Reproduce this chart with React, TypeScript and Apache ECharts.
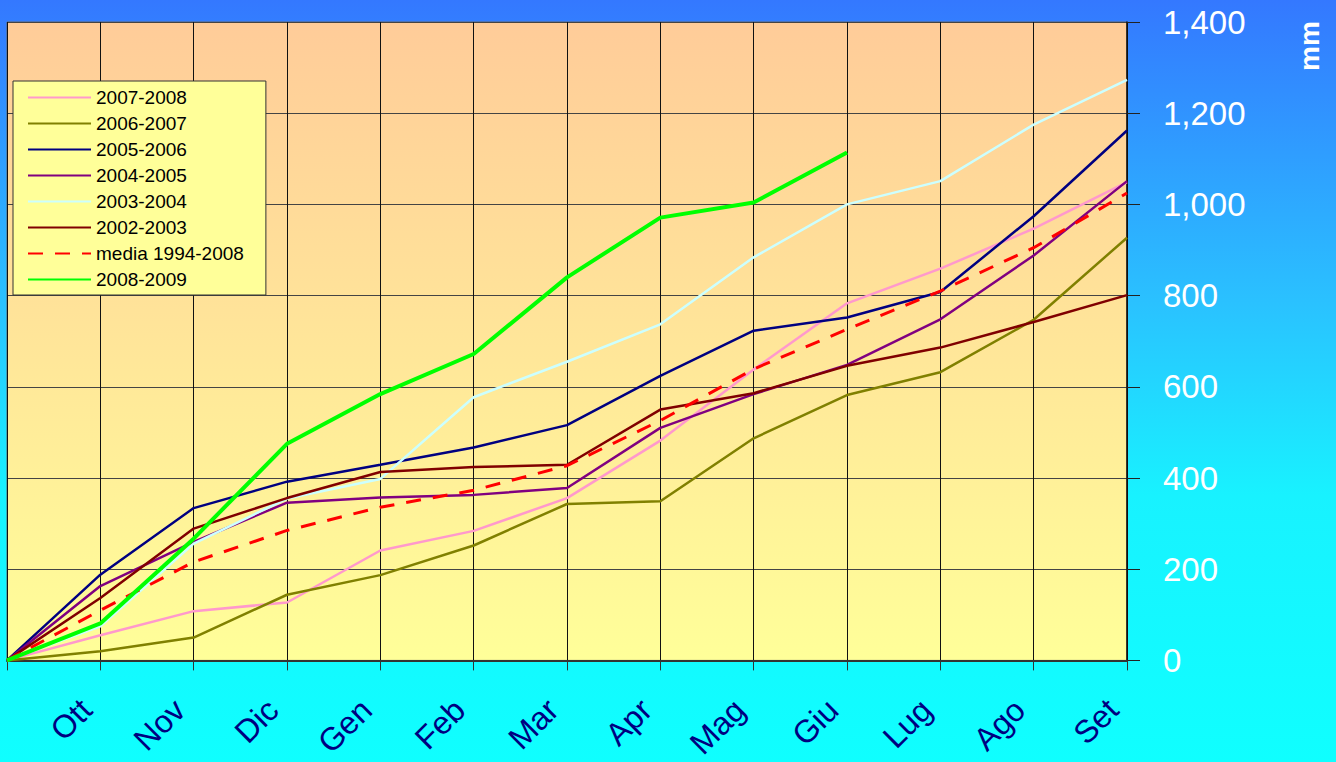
import React, { useEffect, useRef } from "react";
import * as echarts from "echarts";

const months = ["", "Ott", "Nov", "Dic", "Gen", "Feb", "Mar", "Apr", "Mag", "Giu", "Lug", "Ago", "Set"];
const yTicks = [0, 200, 400, 600, 800, 1000, 1200, 1400];

const s0708 = [0, 55, 108, 127, 241, 284, 356, 482, 638, 783, 859, 947, 1049];
const s0607 = [0, 20, 50, 144, 187, 252, 343, 349, 487, 582, 632, 747, 927];
const s0506 = [0, 188, 334, 392, 429, 467, 516, 624, 723, 752, 808, 974, 1162];
const s0405 = [0, 163, 260, 346, 357, 363, 378, 510, 584, 648, 748, 888, 1051];
const s0304 = [0, 75, 256, 355, 398, 577, 655, 737, 884, 1000, 1051, 1175, 1273];
const s0203 = [0, 137, 289, 356, 413, 424, 429, 550, 586, 646, 686, 742, 801];
const media = [0, 110, 216, 285, 336, 373, 427, 526, 639, 726, 810, 905, 1025];
const s0809 = [0, 81, 267, 475, 584, 672, 840, 971, 1004, 1114];

const seriesDefs = [
  { name: "2007-2008", data: s0708, color: "#FF99CC", width: 2.5, dash: "solid" },
  { name: "2006-2007", data: s0607, color: "#808000", width: 2.5, dash: "solid" },
  { name: "2005-2006", data: s0506, color: "#000080", width: 2.5, dash: "solid" },
  { name: "2004-2005", data: s0405, color: "#800080", width: 2.5, dash: "solid" },
  { name: "2003-2004", data: s0304, color: "#CCFFFF", width: 2.5, dash: "solid" },
  { name: "2002-2003", data: s0203, color: "#800000", width: 2.5, dash: "solid" },
  { name: "media 1994-2008", data: media, color: "#FF0000", width: 3, dash: [15, 12] },
  { name: "2008-2009", data: s0809, color: "#00FF00", width: 4, dash: "solid" },
];

const FONT = "'Liberation Sans', Arial, sans-serif";

export default function App() {
  const ref = useRef<HTMLDivElement>(null);

  useEffect(() => {
    if (!ref.current) return;
    const chart = echarts.init(ref.current, null, { renderer: "svg" });
    chart.setOption({
      animation: false,
      backgroundColor: new echarts.graphic.LinearGradient(0, 0, 0, 1, [
        { offset: 0, color: "#3478FF" },
        { offset: 0.4, color: "#2AC2FF" },
        { offset: 0.65, color: "#18F2FF" },
        { offset: 1, color: "#0FFFFF" },
      ]),
      grid: {
        left: 7,
        right: 209,
        top: 22,
        bottom: 100,
        show: true,
        borderColor: "#666",
        borderWidth: 1,
        backgroundColor: new echarts.graphic.LinearGradient(0, 0, 0, 1, [
          { offset: 0, color: "#FFCC99" },
          { offset: 1, color: "#FFFF99" },
        ]),
      },
      legend: {
        orient: "vertical",
        left: 13,
        top: 81,
        padding: [7, 22, 6, 14],
        itemWidth: 63,
        itemHeight: 14,
        itemGap: 7,
        backgroundColor: "#FFFF99",
        borderColor: "#333",
        borderWidth: 1,
        borderRadius: 0,
        itemStyle: { opacity: 0 },
        textStyle: { fontFamily: FONT, fontSize: 19, color: "#000" },
        data: seriesDefs.map((s) => s.name),
      },
      graphic: [
        {
          type: "text",
          x: 1309,
          y: 46,
          rotation: Math.PI / 2,
          style: {
            text: "mm",
            fill: "#fff",
            font: `bold 28px ${FONT}`,
            textAlign: "center",
            textVerticalAlign: "middle",
          },
        },
      ],
      xAxis: {
        type: "category",
        data: months,
        boundaryGap: false,
        axisLine: { show: true, lineStyle: { color: "#333", width: 2 } },
        axisTick: { show: true, length: 10, interval: 0, lineStyle: { color: "#333" } },
        splitLine: { show: true, interval: 0, lineStyle: { color: "#111", width: 1 } },
        axisLabel: {
          interval: 0,
          rotate: 45,
          margin: 30,
          padding: [0, 20, 0, 0],
          color: "#000080",
          fontFamily: FONT,
          fontSize: 32,
        },
      },
      yAxis: {
        type: "value",
        position: "right",
        min: yTicks[0],
        max: yTicks[yTicks.length - 1],
        interval: 200,
        axisLine: { show: true, lineStyle: { color: "#111", width: 1.5 } },
        axisTick: { show: true, length: 13, inside: false, lineStyle: { color: "#222" } },
        splitLine: { show: true, lineStyle: { color: "#444", width: 1.2 } },
        axisLabel: {
          margin: 36,
          color: "#fff",
          fontFamily: FONT,
          fontSize: 33,
          formatter: (v: number) => v.toLocaleString("en-US"),
        },
      },
      series: seriesDefs.map((s, i) => ({
        name: s.name,
        type: "line",
        data: s.data,
        symbol: "none",
        showSymbol: false,
        z: 2 + i,
        color: s.color,
        lineStyle: { color: s.color, width: s.width, type: s.dash },
      })),
    });
    return () => chart.dispose();
  }, []);

  return (
    <div
      ref={ref}
      style={{ position: "fixed", left: 0, top: 0, width: 1336, height: 762 }}
    />
  );
}
